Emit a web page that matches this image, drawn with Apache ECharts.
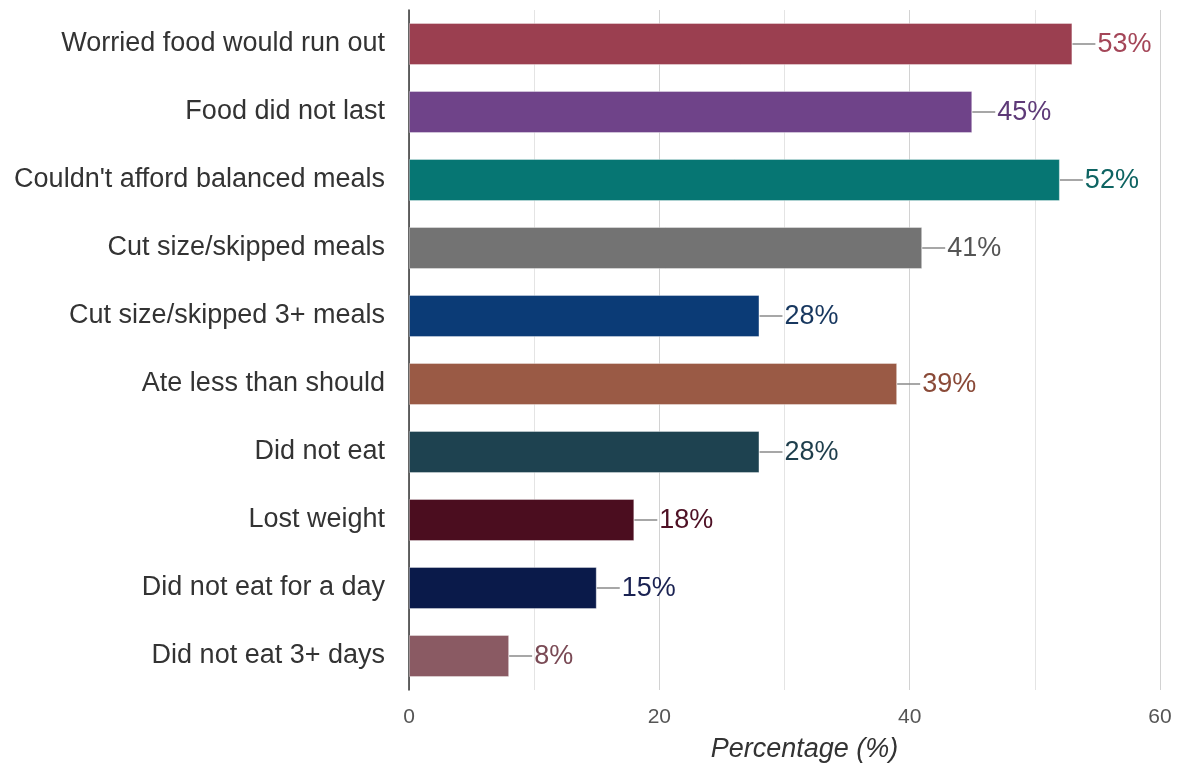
<!DOCTYPE html>
<html>
<head>
<meta charset="utf-8">
<script src="https://cdn.jsdelivr.net/npm/echarts@6/dist/echarts.min.js"></script>
<style>
html,body{margin:0;padding:0;background:#fff;}
#c{width:1183px;height:769px;}
</style>
</head>
<body>
<div id="c"></div>
<script>
const categories = [
  'Worried food would run out',
  'Food did not last',
  "Couldn't afford balanced meals",
  'Cut size/skipped meals',
  'Cut size/skipped 3+ meals',
  'Ate less than should',
  'Did not eat',
  'Lost weight',
  'Did not eat for a day',
  'Did not eat 3+ days'
];
const values = [53, 45, 52, 41, 28, 39, 28, 18, 15, 8];
const barColors = ['#9B3F50', '#6F4389', '#067673', '#737373', '#0B3B76', '#9A5A45', '#1E4250', '#4B0D1F', '#0A1A4A', '#8A5A63'];
const labelColors = ['#A44658', '#5E3A78', '#0E6462', '#555555', '#17375F', '#8A4A38', '#1E3E4C', '#4E1024', '#1A2252', '#7A4A55'];
const xTicks = [0, 20, 40, 60];
const axisTitle = 'Percentage (%)';

const FONT = 'Liberation Sans, Arial, sans-serif';
const chart = echarts.init(document.getElementById('c'), null, {renderer: 'canvas'});
chart.setOption({
  animation: false,
  backgroundColor: '#fff',
  grid: {left: 409, right: 23, top: 10, bottom: 79, containLabel: false},
  xAxis: {
    type: 'value',
    min: xTicks[0],
    max: xTicks[xTicks.length - 1],
    interval: 20,
    axisLine: {show: false},
    axisTick: {show: false},
    axisLabel: {color: '#555', fontSize: 21, fontFamily: FONT, margin: 17},
    splitLine: {show: true, lineStyle: {color: '#d2d2d2', width: 1}},
    minorTick: {show: false, splitNumber: 2},
    minorSplitLine: {show: true, lineStyle: {color: '#e4e4e4', width: 1}},
    name: axisTitle,
    nameLocation: 'middle',
    nameGap: 46,
    nameTextStyle: {color: '#333', fontSize: 27, fontStyle: 'italic', fontFamily: FONT, padding: [0, 0, 0, 40]}
  },
  yAxis: {
    type: 'category',
    data: categories,
    inverse: true,
    axisLine: {show: true, lineStyle: {color: '#333', width: 1.5}},
    axisTick: {show: false},
    axisLabel: {color: '#333', fontSize: 27, fontFamily: FONT, margin: 24, padding: [3, 0, 0, 0]},
    splitLine: {show: false}
  },
  series: [
    {
      type: 'bar',
      data: values.map((v, i) => ({value: v, itemStyle: {color: barColors[i]}})),
      barWidth: 42,
      itemStyle: {borderColor: 'rgba(255,255,255,0.35)', borderWidth: 1},
      silent: true
    },
    {
      type: 'custom',
      silent: true,
      data: values.map((v, i) => [v, i]),
      renderItem: function (params, api) {
        const v = api.value(0);
        const idx = api.value(1);
        const p = api.coord([v, idx]);
        return {
          type: 'group',
          children: [
            {
              type: 'line',
              shape: {x1: p[0], y1: p[1], x2: p[0] + 23, y2: p[1]},
              style: {stroke: '#8a8a8a', lineWidth: 1.5}
            },
            {
              type: 'text',
              style: {
                x: p[0] + 25,
                y: p[1] + 1,
                text: v + '%',
                fill: labelColors[idx],
                font: '27px ' + FONT,
                textAlign: 'left',
                textVerticalAlign: 'middle'
              }
            }
          ]
        };
      }
    }
  ]
});
</script>
</body>
</html>
